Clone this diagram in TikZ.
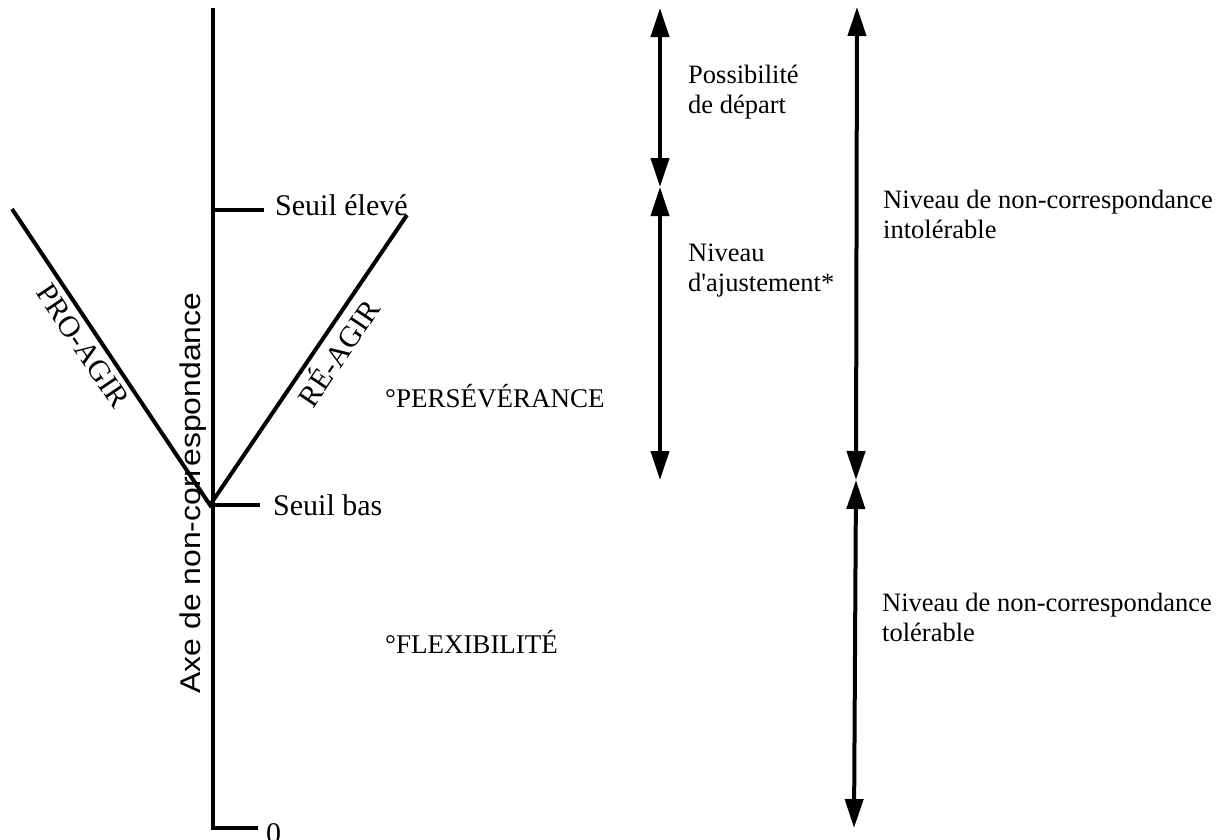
\documentclass[tikz,border=0pt]{standalone}
\usepackage{fontspec}
\setmainfont{Liberation Serif}
\newfontfamily\axisfont[FakeStretch=1.12]{Liberation Sans}
\usetikzlibrary{arrows.meta}
\begin{document}
\begin{tikzpicture}[x=1pt,y=-1pt,
  axisline/.style={line width=4.5pt},
  tickline/.style={line width=3.5pt},
  armline/.style={line width=4pt},
  spanarrow/.style={line width=4pt,
    {Triangle[length=29pt 0,width=18pt 0]}-{Triangle[length=29pt 0,width=18pt 0]}},
  biglabel/.style={font=\fontsize{30}{32}\selectfont, inner sep=0pt, anchor=base west},
  zonelabel/.style={font=\fontsize{27}{29}\selectfont, inner sep=0pt, anchor=base west},
  armlabel/.style={font=\fontsize{30}{31}\selectfont, inner sep=0pt},
  sidelabel/.style={font=\fontsize{26.5}{29.5}\selectfont, inner sep=0pt, align=left, anchor=base west},
]
\useasboundingbox (0,0) rectangle (1226,839);

% main axis and its end points
\coordinate (top) at (213,8);
\coordinate (corner) at (213,828);
\coordinate (zeroend) at (258,828);
\coordinate (hi) at (213,210);
\coordinate (hiend) at (264,210);
\coordinate (lo) at (213,505);
\coordinate (loend) at (260,505);
\coordinate (vertex) at (210,505);
\coordinate (proend) at (12,209);
\coordinate (reend) at (407,215);

\draw[axisline, line join=miter] (top) -- (corner) -- (zeroend);
\draw[tickline] (hi) -- (hiend);
\draw[tickline] (lo) -- (loend);
\draw[armline] (proend) -- (vertex) -- (reend);

% labels of the axis
\node[biglabel] (seuilhaut) at (275,215) {Seuil élevé};
\node[biglabel] (seuilbas) at (273,515) {Seuil bas};
\node[font=\fontsize{30}{32}\selectfont, inner sep=0pt, anchor=north west] (zero) at (266,823) {0};
\node[rotate=90, anchor=base, inner sep=0pt, font=\axisfont\fontsize{28.5}{30}\selectfont] (axlabel) at (200,493) {Axe de non-correspondance};
\node[armlabel, rotate=-56] (pro) at (83,346) {PRO-AGIR};
\node[armlabel, rotate=56] (re) at (337,352) {RÉ-AGIR};

\node[zonelabel] (perse) at (385,407) {°PERSÉVÉRANCE};
\node[zonelabel] (flex) at (385,653) {°FLEXIBILITÉ};

% range arrows
\coordinate (a1) at (660,8);
\coordinate (a2) at (660,187);
\coordinate (a3) at (660,480);
\coordinate (b1) at (857,7);
\coordinate (b2) at (856,480);
\coordinate (b3) at (854,828);

\draw[spanarrow] (a1) -- (a2);
\draw[spanarrow] (a2) -- (a3);
\draw[spanarrow] (b1) -- (b2);
\draw[spanarrow] (b2) -- (b3);

% texts beside the arrows (anchored on the baseline of their last line)
\node[sidelabel] (depart) at (688,113) {Possibilité\\de départ};
\node[sidelabel] (ajust) at (688,291) {Niveau\\d\textquotesingle ajustement*};
\node[sidelabel] (intol) at (883,238) {Niveau de non-correspondance\\intolérable};
\node[sidelabel] (tol) at (882,641) {Niveau de non-correspondance\\tolérable};
\end{tikzpicture}
\end{document}
